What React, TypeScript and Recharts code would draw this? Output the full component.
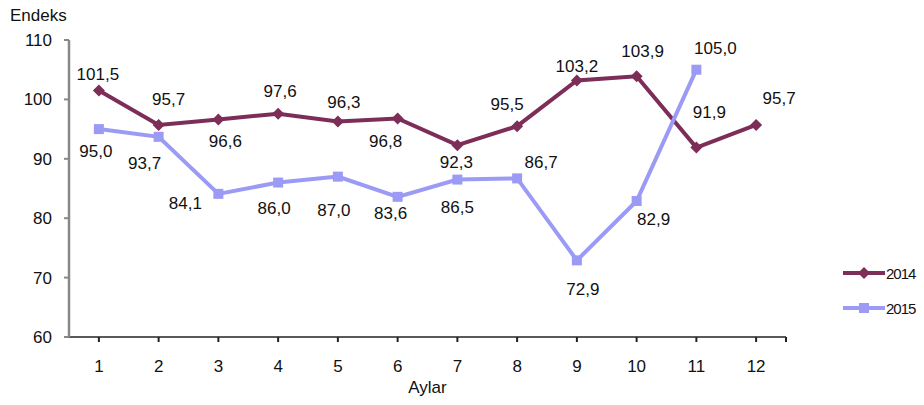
import React from 'react';
import { LineChart, Line, XAxis, YAxis, LabelList, Legend } from 'recharts';

const months = [1, 2, 3, 4, 5, 6, 7, 8, 9, 10, 11, 12];
const values2014 = [101.5, 95.7, 96.6, 97.6, 96.3, 96.8, 92.3, 95.5, 103.2, 103.9, 91.9, 95.7];
const values2015: (number | null)[] = [95.0, 93.7, 84.1, 86.0, 87.0, 83.6, 86.5, 86.7, 72.9, 82.9, 105.0, null];
const yTicks = [60, 70, 80, 90, 100, 110];
const xTicks = [1, 2, 3, 4, 5, 6, 7, 8, 9, 10, 11, 12, 12.5];

// label placement offsets (style only)
const off2014: [number, number][] = [[-1, -16], [10, -25], [7, 22], [2, -22], [6, -19], [-12, 23], [-1, 17], [-10, -22], [0, -14], [6, -25], [13, -35], [23, -26]];
const off2015: [number, number][] = [[-3, 22], [-14, 27], [-33, 10], [-4, 26], [-4, 34], [-7, 17], [0, 28], [24, -16], [6, 29], [17, 19], [19, -21]];

const C2014 = '#7C2D58';
const C2015 = '#9B9BF5';
const FONT = '"Liberation Sans", Arial, sans-serif';

const data = months.map((m, i) => ({ month: m, s2014: values2014[i], s2015: values2015[i] }));

const fmt = (v: number) => v.toFixed(1).replace('.', ',');

const Diamond = (props: any) => {
  const { cx, cy } = props;
  if (cx == null || cy == null) return null;
  const r = 6;
  return <polygon points={`${cx},${cy - r} ${cx + r},${cy} ${cx},${cy + r} ${cx - r},${cy}`} fill={C2014} />;
};
const Square = (props: any) => {
  const { cx, cy } = props;
  if (cx == null || cy == null) return null;
  const r = 5;
  return <rect x={cx - r} y={cy - r} width={2 * r} height={2 * r} fill={C2015} />;
};

const makeLabel = (offs: [number, number][]) => (props: any) => {
  const { x, y, value, index } = props;
  if (value == null) return null;
  const o = offs[index] || [0, -15];
  return (
    <text x={x + o[0]} y={y + o[1]} textAnchor="middle" dominantBaseline="central" fontSize={17} fill="#111" fontFamily={FONT}>
      {fmt(value)}
    </text>
  );
};

const LegendContent = () => (
  <svg width={80} height={60}>
    <line x1={2} y1={10} x2={44} y2={10} stroke={C2014} strokeWidth={4} />
    <polygon points="23,4 29,10 23,16 17,10" fill={C2014} />
    <text x={45} y={10} dominantBaseline="central" fontSize={15} fill="#111" fontFamily={FONT} letterSpacing={-1}>2014</text>
    <line x1={2} y1={45} x2={44} y2={45} stroke={C2015} strokeWidth={4} />
    <rect x={18} y={40} width={10} height={10} fill={C2015} />
    <text x={45} y={45} dominantBaseline="central" fontSize={15} fill="#111" fontFamily={FONT} letterSpacing={-1}>2015</text>
  </svg>
);

export default function App() {
  return (
    <div style={{ position: 'absolute', left: 0, top: 0, width: 924, height: 405, background: '#fff' }}>
      <LineChart width={924} height={405} data={data} margin={{ top: 40, right: 138, bottom: 38, left: 0 }} style={{ fontFamily: FONT }}>
        <XAxis
          dataKey="month"
          type="number"
          domain={[0.5, 12.5]}
          ticks={xTicks}
          tickFormatter={(v: number) => (Number.isInteger(v) ? String(v) : '')}
          height={30}
          tickSize={5}
          tickMargin={18}
          axisLine={{ stroke: '#222', strokeWidth: 1.5 }}
          tickLine={{ stroke: '#222', strokeWidth: 2 }}
          tick={{ fontSize: 17, fill: '#111' }}
          interval={0}
          allowDecimals
          label={{ value: 'Aylar', position: 'bottom', offset: 14, fontSize: 17, fill: '#111' }}
        />
        <YAxis
          type="number"
          domain={[60, 110]}
          ticks={yTicks}
          width={69}
          tickSize={5}
          tickMargin={12}
          axisLine={{ stroke: '#888', strokeWidth: 2.5 }}
          tickLine={{ stroke: '#888', strokeWidth: 2 }}
          tick={{ fontSize: 17, fill: '#111' }}
          interval={0}
          label={{
            content: () => (
              <text x={10} y={15} dominantBaseline="central" fontSize={17} fill="#111" fontFamily={FONT}>Endeks</text>
            ),
          }}
        />
        <Legend
          layout="vertical"
          align="center"
          verticalAlign="middle"
          content={LegendContent}
          wrapperStyle={{ left: 841, top: 263, width: 80, height: 60 }}
        />
        <Line
          type="linear"
          dataKey="s2014"
          name="2014"
          stroke={C2014}
          strokeWidth={4}
          dot={<Diamond />}
          activeDot={false}
          isAnimationActive={false}
        >
          <LabelList dataKey="s2014" content={makeLabel(off2014)} />
        </Line>
        <Line
          type="linear"
          dataKey="s2015"
          name="2015"
          stroke={C2015}
          strokeWidth={4}
          dot={<Square />}
          activeDot={false}
          connectNulls={false}
          isAnimationActive={false}
        >
          <LabelList dataKey="s2015" content={makeLabel(off2015)} />
        </Line>
      </LineChart>
    </div>
  );
}
